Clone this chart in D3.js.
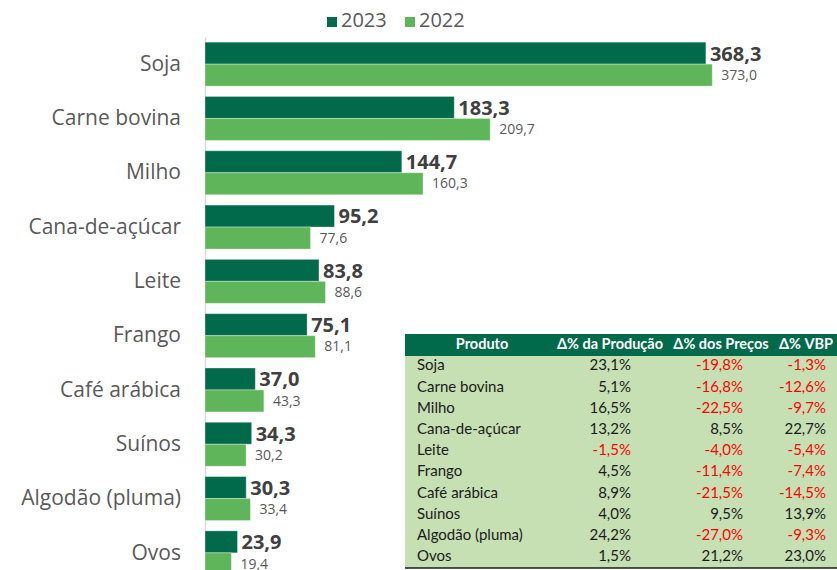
<!DOCTYPE html>
<html>
<head>
<meta charset="utf-8">
<script src="https://cdn.jsdelivr.net/npm/d3@7"></script>
<style>
  body { margin: 0; background: #fff; }
  svg { display: block; }
</style>
</head>
<body>
<div id="chart"></div>
<script>
// chart data (bilhões de R$)
var categories = ["Soja", "Carne bovina", "Milho", "Cana-de-açúcar", "Leite", "Frango",
  "Café arábica", "Suínos", "Algodão (pluma)", "Ovos"];
var series = ["2023", "2022"];
var values2023 = [368.3, 183.3, 144.7, 95.2, 83.8, 75.1, 37.0, 34.3, 30.3, 23.9];
var values2022 = [373.0, 209.7, 160.3, 77.6, 88.6, 81.1, 43.3, 30.2, 33.4, 19.4];

// table data
var tableHeader = ["Produto", "Δ% da Produção", "Δ% dos Preços", "Δ% VBP"];
var deltaProducao = [23.1, 5.1, 16.5, 13.2, -1.5, 4.5, 8.9, 4.0, 24.2, 1.5];
var deltaPrecos = [-19.8, -16.8, -22.5, 8.5, -4.0, -11.4, -21.5, 9.5, -27.0, 21.2];
var deltaVBP = [-1.3, -12.6, -9.7, 22.7, -5.4, -7.4, -14.5, 13.9, -9.3, 23.0];

var width = 837, height = 570;
var colors = { "2023": "#006a4a", "2022": "#5fb55a" };

var data = categories.map(function(c, i) {
  return { cat: c, "2023": values2023[i], "2022": values2022[i] };
});

// pt-BR style: comma decimal, plain hyphen for negatives
var fmt = function(v) { return (v < 0 ? "-" : "") + Math.abs(v).toFixed(1).replace(".", ","); };

var svg = d3.select("#chart").append("svg")
  .attr("width", width)
  .attr("height", height)
  .style("font-family", "'Open Sans', sans-serif");

// scales
var x = d3.scaleLinear().domain([0, 400]).range([205, 749]);
var y = d3.scaleBand().domain(categories).range([37, 580])
  .paddingInner(0.19).paddingOuter(0.095);
var ySub = d3.scaleBand().domain(series).range([0, y.bandwidth()]);

// category axis
var yAxis = svg.append("g")
  .attr("transform", "translate(205,0)")
  .call(d3.axisLeft(y).tickSize(0).tickPadding(24));
yAxis.select(".domain").attr("stroke", "#d9d9d9").attr("stroke-width", 1.5);
yAxis.selectAll("text")
  .attr("fill", "#595959")
  .style("font-size", "21px")
  .style("font-family", "'Open Sans', sans-serif");

// bars
var groups = svg.append("g").selectAll("g")
  .data(data).join("g")
  .attr("transform", function(d) { return "translate(0," + y(d.cat) + ")"; });

groups.selectAll("rect")
  .data(function(d) { return series.map(function(s) { return { key: s, value: d[s] }; }); })
  .join("rect")
  .attr("x", x(0))
  .attr("y", function(d) { return ySub(d.key); })
  .attr("width", function(d) { return x(d.value) - x(0); })
  .attr("height", ySub.bandwidth())
  .attr("fill", function(d) { return colors[d.key]; })
  .attr("stroke", "#ffffff")
  .attr("stroke-opacity", 0.35)
  .attr("stroke-width", 1);

// value labels
groups.selectAll("text")
  .data(function(d) { return series.map(function(s) { return { key: s, value: d[s] }; }); })
  .join("text")
  .attr("x", function(d) { return x(d.value) + (d.key === "2023" ? 4 : 9); })
  .attr("y", function(d) { return ySub(d.key) + ySub.bandwidth() / 2 + (d.key === "2023" ? 2 : 1); })
  .attr("dominant-baseline", "middle")
  .attr("fill", function(d) { return d.key === "2023" ? "#404040" : "#595959"; })
  .style("font-size", function(d) { return d.key === "2023" ? "20px" : "14px"; })
  .style("font-weight", function(d) { return d.key === "2023" ? "bold" : "normal"; })
  .text(function(d) { return fmt(d.value); });

// legend
var legend = svg.append("g").selectAll("g")
  .data(series).join("g")
  .attr("transform", function(d, i) { return "translate(" + (327 + i * 78) + ",17)"; });
legend.append("rect")
  .attr("width", 10).attr("height", 10)
  .attr("fill", function(d) { return colors[d]; });
legend.append("text")
  .attr("x", 14).attr("y", 5)
  .attr("dominant-baseline", "middle")
  .attr("fill", "#595959")
  .style("font-size", "20px")
  .text(function(d) { return d; });

// table
var tx0 = 405, tx1 = 837;
var rowY = d3.scaleBand().domain(categories).range([356, 568]);
var table = svg.append("g").style("font-family", "Lato, sans-serif").style("font-size", "15px");

table.append("rect")
  .attr("x", tx0).attr("y", 334).attr("width", tx1 - tx0).attr("height", 22)
  .attr("fill", "#006a4a");
table.append("rect")
  .attr("x", tx0).attr("y", 356).attr("width", tx1 - tx0).attr("height", 212)
  .attr("fill", "#c6e0b4");
table.append("line")
  .attr("x1", tx0).attr("x2", tx1).attr("y1", 568).attr("y2", 568)
  .attr("stroke", "#1a1a1a").attr("stroke-width", 1.5);

var headerX = [482, 610, 721, 806];
table.selectAll(".hdr")
  .data(tableHeader).join("text")
  .attr("class", "hdr")
  .attr("x", function(d, i) { return headerX[i]; })
  .attr("y", 345)
  .attr("text-anchor", "middle")
  .attr("dominant-baseline", "middle")
  .attr("fill", "#ffffff")
  .style("font-weight", "bold")
  .style("font-size", "14.5px")
  .text(function(d) { return d; });

var rows = table.selectAll(".row")
  .data(categories).join("g")
  .attr("class", "row")
  .attr("transform", function(d) { return "translate(0," + (rowY(d) + rowY.bandwidth() / 2) + ")"; });

rows.append("text")
  .attr("x", 417)
  .attr("dominant-baseline", "middle")
  .attr("fill", "#1a1a1a")
  .text(function(d) { return d; });

var cols = [deltaProducao, deltaPrecos, deltaVBP];
var colRight = [631, 743, 826];
cols.forEach(function(col, j) {
  rows.append("text")
    .attr("x", colRight[j])
    .attr("text-anchor", "end")
    .attr("dominant-baseline", "middle")
    .attr("fill", function(d, i) { return col[i] < 0 ? "#ff0000" : "#1a1a1a"; })
    .text(function(d, i) { return fmt(col[i]) + "%"; });
});
</script>
</body>
</html>
